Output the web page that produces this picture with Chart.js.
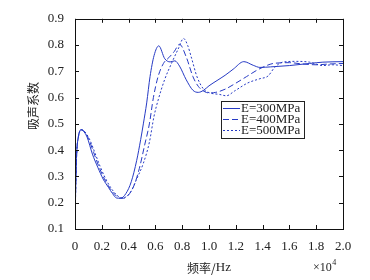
<!DOCTYPE html>
<html>
<head>
<meta charset="utf-8">
<script src="https://cdn.jsdelivr.net/npm/chart.js@4/dist/chart.umd.min.js"></script>
<style>
  html, body { margin: 0; padding: 0; background: #fff; }
  #wrap { width: 370px; height: 280px; }
</style>
</head>
<body>
<div id="wrap"><canvas id="absChart" width="370" height="280"></canvas></div>
<script>
// 频率 (×10^4 Hz) 与吸声系数
const seriesNames = ['E=300MPa', 'E=400MPa', 'E=500MPa'];

const freq300 = [0, 0.005, 0.012, 0.025, 0.045, 0.06, 0.09, 0.13, 0.17, 0.21, 0.25, 0.28, 0.31, 0.34, 0.38, 0.42, 0.46, 0.49, 0.51, 0.535, 0.56, 0.59, 0.625, 0.67, 0.71, 0.745, 0.78, 0.83, 0.88, 0.92, 0.96, 1.0, 1.06, 1.12, 1.18, 1.26, 1.33, 1.38, 1.46, 1.6, 1.75, 1.85, 2.0];
const abs300  = [0.1, 0.25, 0.38, 0.45, 0.478, 0.474, 0.45, 0.385, 0.335, 0.29, 0.258, 0.235, 0.218, 0.217, 0.235, 0.28, 0.36, 0.44, 0.5, 0.58, 0.68, 0.76, 0.797, 0.748, 0.736, 0.74, 0.72, 0.668, 0.628, 0.62, 0.628, 0.645, 0.665, 0.685, 0.708, 0.737, 0.723, 0.715, 0.717, 0.722, 0.73, 0.735, 0.737];

const freq400 = [0, 0.005, 0.012, 0.025, 0.047, 0.065, 0.1, 0.14, 0.18, 0.22, 0.26, 0.30, 0.33, 0.36, 0.40, 0.44, 0.48, 0.52, 0.555, 0.585, 0.62, 0.66, 0.70, 0.74, 0.78, 0.83, 0.88, 0.92, 0.97, 1.0, 1.05, 1.12, 1.2, 1.28, 1.36, 1.42, 1.48, 1.6, 1.7, 1.8, 1.9, 2.0];
const abs400  = [0.1, 0.25, 0.38, 0.45, 0.478, 0.474, 0.445, 0.39, 0.335, 0.29, 0.255, 0.23, 0.218, 0.217, 0.23, 0.265, 0.33, 0.42, 0.5, 0.6, 0.68, 0.73, 0.752, 0.775, 0.803, 0.755, 0.68, 0.643, 0.622, 0.618, 0.62, 0.632, 0.655, 0.68, 0.705, 0.72, 0.73, 0.733, 0.728, 0.725, 0.728, 0.73];

const freq500 = [0, 0.005, 0.012, 0.025, 0.05, 0.07, 0.11, 0.15, 0.19, 0.23, 0.27, 0.31, 0.35, 0.38, 0.42, 0.46, 0.51, 0.555, 0.59, 0.62, 0.67, 0.72, 0.77, 0.81, 0.84, 0.87, 0.91, 0.96, 1.0, 1.08, 1.13, 1.19, 1.29, 1.38, 1.44, 1.49, 1.55, 1.65, 1.75, 1.85, 1.92, 2.0];
const abs500  = [0.1, 0.25, 0.38, 0.45, 0.477, 0.472, 0.44, 0.388, 0.335, 0.29, 0.255, 0.23, 0.218, 0.222, 0.245, 0.29, 0.35, 0.43, 0.53, 0.59, 0.67, 0.73, 0.785, 0.825, 0.80, 0.75, 0.68, 0.632, 0.619, 0.612, 0.607, 0.625, 0.656, 0.672, 0.682, 0.715, 0.735, 0.738, 0.735, 0.722, 0.725, 0.722];

const xTicks = [0, 0.2, 0.4, 0.6, 0.8, 1.0, 1.2, 1.4, 1.6, 1.8, 2.0];
const yTicks = [0.1, 0.2, 0.3, 0.4, 0.5, 0.6, 0.7, 0.8, 0.9];

const lineColor = 'rgb(38, 58, 196)';
const serif = '"Liberation Serif", "DejaVu Serif", serif';
const cjk = '"Noto Sans CJK SC", sans-serif';

function toPoints(xs, ys) {
    return xs.map((x, i) => ({ x: x, y: ys[i] }));
}

// 边框 + 向内刻度 + 坐标轴标题 + 图例
const framePlugin = {
    id: 'frame',
    afterDraw(chart) {
        const ctx = chart.ctx;
        const a = chart.chartArea;
        const xs = chart.scales.x;
        const ys = chart.scales.y;
        const tl = 4;
        ctx.save();
        ctx.strokeStyle = '#111';
        ctx.lineWidth = 1;
        ctx.strokeRect(Math.round(a.left) + 0.5, Math.round(a.top) + 0.5,
            Math.round(a.right - a.left), Math.round(a.bottom - a.top));
        ctx.beginPath();
        xTicks.forEach(v => {
            const px = Math.round(xs.getPixelForValue(v)) + 0.5;
            ctx.moveTo(px, a.bottom); ctx.lineTo(px, a.bottom - tl);
            ctx.moveTo(px, a.top); ctx.lineTo(px, a.top + tl);
        });
        yTicks.forEach(v => {
            const py = Math.round(ys.getPixelForValue(v)) + 0.5;
            ctx.moveTo(a.left, py); ctx.lineTo(a.left + tl, py);
            ctx.moveTo(a.right, py); ctx.lineTo(a.right - tl, py);
        });
        ctx.stroke();

        // 轴标题
        ctx.fillStyle = '#222';
        ctx.font = '12px ' + cjk;
        ctx.textAlign = 'center';
        ctx.textBaseline = 'middle';
        ctx.save();
        ctx.translate(33, 106);
        ctx.rotate(-Math.PI / 2);
        ctx.fillText('吸声系数', 0, 0);
        ctx.restore();

        const xt = '频率/';
        ctx.font = '12px ' + cjk;
        const w1 = ctx.measureText(xt).width;
        ctx.font = '13px ' + serif;
        const w2 = ctx.measureText('Hz').width;
        let sx = (a.left + a.right) / 2 - (w1 + w2) / 2;
        ctx.textAlign = 'left';
        ctx.font = '12px ' + cjk;
        ctx.fillText(xt, sx, 268);
        ctx.font = '13px ' + serif;
        ctx.fillText('Hz', sx + w1, 268);

        // ×10^4
        ctx.font = '12px ' + serif;
        ctx.fillText('×10', 313, 268);
        const wx = ctx.measureText('×10').width;
        ctx.font = '8px ' + serif;
        ctx.fillText('4', 313 + wx + 0.5, 263);

        // 图例
        const lx = 221, ly = 101, lw = 83, lh = 37;
        ctx.fillStyle = '#fff';
        ctx.fillRect(lx, ly, lw, lh);
        ctx.strokeStyle = '#222';
        ctx.strokeRect(lx + 0.5, ly + 0.5, lw, lh);
        chart.data.datasets.forEach((ds, i) => {
            const yy = 108.5 + i * 11;
            ctx.strokeStyle = ds.borderColor;
            ctx.lineWidth = 1;
            ctx.setLineDash(ds.borderDash || []);
            ctx.beginPath();
            ctx.moveTo(223, yy);
            ctx.lineTo(240, yy);
            ctx.stroke();
            ctx.setLineDash([]);
            ctx.fillStyle = '#222';
            ctx.font = '13px ' + serif;
            ctx.textAlign = 'left';
            ctx.textBaseline = 'middle';
            ctx.fillText(ds.label, 241, yy + 0.5);
        });
        ctx.restore();
    }
};

new Chart(document.getElementById('absChart'), {
    type: 'line',
    data: {
        datasets: [
            { label: seriesNames[0], data: toPoints(freq300, abs300), borderColor: lineColor, borderDash: [] },
            { label: seriesNames[1], data: toPoints(freq400, abs400), borderColor: lineColor, borderDash: [6, 3] },
            { label: seriesNames[2], data: toPoints(freq500, abs500), borderColor: lineColor, borderDash: [2, 2] }
        ]
    },
    options: {
        responsive: false,
        animation: false,
        events: [],
        layout: { padding: { left: 0, right: 27, top: 12, bottom: 0 } },
        elements: {
            point: { radius: 0 },
            line: { borderWidth: 1, cubicInterpolationMode: 'monotone', fill: false }
        },
        plugins: {
            legend: { display: false },
            tooltip: { enabled: false }
        },
        scales: {
            x: {
                type: 'linear',
                min: 0,
                max: 2,
                afterBuildTicks: s => { s.ticks = xTicks.map(v => ({ value: v })); },
                afterFit: s => { s.height = 51; },
                grid: { display: false, drawTicks: false },
                border: { display: false },
                ticks: {
                    padding: 10,
                    maxRotation: 0,
                    autoSkip: false,
                    color: '#222',
                    font: { family: serif, size: 13 },
                    callback: v => v === 0 ? '0' : v.toFixed(1)
                }
            },
            y: {
                min: 0.1,
                max: 0.9,
                afterBuildTicks: s => { s.ticks = yTicks.map(v => ({ value: v })); },
                afterFit: s => { s.width = 75; },
                grid: { display: false, drawTicks: false },
                border: { display: false },
                ticks: {
                    padding: 11,
                    autoSkip: false,
                    color: '#222',
                    font: { family: serif, size: 13 },
                    callback: v => v.toFixed(1)
                }
            }
        }
    },
    plugins: [framePlugin]
});
</script>
</body>
</html>
